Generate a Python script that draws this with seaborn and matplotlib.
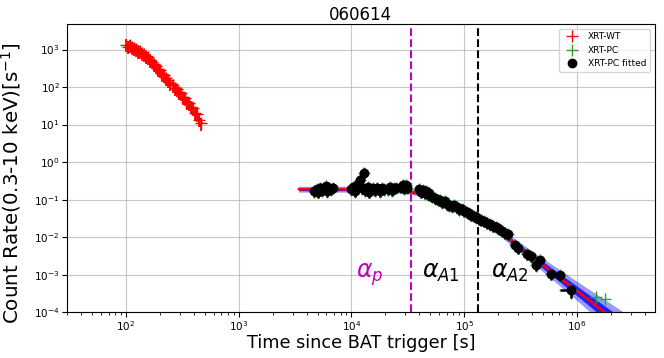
import matplotlib
matplotlib.use("Agg")
import matplotlib.pyplot as plt
from matplotlib.lines import Line2D
from matplotlib.ticker import NullLocator
import seaborn as sns
import numpy as np
import pandas as pd

sns.set_style("ticks", {"axes.edgecolor": "black", "text.color": "black",
                        "xtick.color": "black", "ytick.color": "black",
                        "axes.labelcolor": "black"})
plt.rcParams['font.family'] = ['DejaVu Sans']

# DATA

grb_name = '060614'

# XRT windowed timing mode
wt_t = [100, 104, 108, 112, 117, 122, 127, 132, 138, 144, 150, 156, 163, 170,
        177, 185, 193, 201, 210, 219, 228, 238, 248, 259, 270, 282, 294, 307,
        320, 334, 348, 363, 379, 395, 412, 430, 448, 467]
wt_rate = [1350, 1200, 1320, 1150, 1080, 1020, 930, 910, 800, 770, 670, 640,
           530, 480, 410, 370, 300, 285, 225, 205, 170, 155, 128, 115, 95, 88,
           72, 70, 55, 50, 40, 38, 30, 28, 21, 19, 13.5, 11]
wt_rerr_frac = 0.38
wt_terr_frac = 0.03

# XRT photon counting mode (fitted part)
pc_t = [4700, 4900, 5100, 5300, 5500, 5700, 5900, 6100, 6300, 6600, 6900,
        9900, 10300, 10800, 11300, 11800, 12300, 12800, 13300, 13900, 14300,
        15500, 16300, 17000, 17800, 18600, 19400,
        21000, 22000, 23000, 24000, 25000,
        27500, 28500, 29500, 30500, 31400,
        40000, 41500, 43000, 44500, 46000, 47500, 49000,
        52000, 55000, 58000, 61000, 64000, 67000, 70000, 74000, 78000, 82000,
        86000, 90000, 95000,
        100000, 105000, 110000, 116000, 122000, 128000, 135000,
        142000, 150000, 160000, 170000, 180000, 190000, 200000, 215000, 230000,
        245000, 280000, 300000, 360000, 390000, 430000, 470000, 590000, 710000,
        890000]
pc_rate = [0.17, 0.19, 0.16, 0.21, 0.18, 0.20, 0.23, 0.17, 0.20, 0.19, 0.21,
           0.19, 0.22, 0.17, 0.25, 0.34, 0.20, 0.52, 0.18, 0.22, 0.16,
           0.20, 0.18, 0.21, 0.17, 0.20, 0.19,
           0.19, 0.22, 0.18, 0.20, 0.21,
           0.22, 0.25, 0.20, 0.24, 0.21,
           0.19, 0.16, 0.18, 0.15, 0.17, 0.14, 0.15,
           0.12, 0.11, 0.10, 0.095, 0.085, 0.09, 0.075, 0.07, 0.066, 0.07,
           0.062, 0.055, 0.058,
           0.05, 0.046, 0.043, 0.039, 0.037, 0.034, 0.031,
           0.029, 0.027, 0.024, 0.022, 0.02, 0.019, 0.017, 0.015, 0.013,
           0.012, 0.0062, 0.0052, 0.0036, 0.0031, 0.0018, 0.0024, 0.00105,
           0.00096, 0.00039]
pc_rerr_frac = [0.3] * 82 + [0.4]
pc_terr_lo = [0.04] * 82 + [0.2]
pc_terr_hi = [0.04] * 82 + [0.02]

# XRT photon counting mode (not fitted)
pc_extra_t = [1.47e6, 1.77e6]
pc_extra_rate = [2.5e-4, 2.2e-4]

# best fit model + spread of the fit
fit_t = [3400, 8000, 15000, 22000, 28000, 34000, 42000, 60000, 90000,
         140000, 200000, 400000, 1000000, 3000000]
fit_rate = [0.19, 0.19, 0.188, 0.183, 0.175, 0.162, 0.14, 0.094, 0.058,
            0.034, 0.015, 0.0030, 0.00037, 0.000029]
fit_spread = [1.2, 1.2, 1.2, 1.2, 1.19, 1.18, 1.17, 1.17, 1.18,
              1.2, 1.27, 1.42, 1.8, 2.6]

t_peak = 34000
t_break = 133000

# FIGURE

fig, ax = plt.subplots(figsize=(6.64, 3.58), dpi=100)
fig.subplots_adjust(left=0.101, right=0.986, top=0.932, bottom=0.128)

df_fit = pd.DataFrame({'t': fit_t, 'rate': fit_rate, 'k': fit_spread})
ax.fill_between(df_fit['t'], df_fit['rate'] / df_fit['k'],
                df_fit['rate'] * df_fit['k'], color='blue', alpha=0.4,
                lw=0, zorder=2)
ax.fill_between(df_fit['t'], df_fit['rate'] / np.sqrt(df_fit['k']),
                df_fit['rate'] * np.sqrt(df_fit['k']), color='blue',
                alpha=0.8, lw=0, zorder=2)
sns.lineplot(data=df_fit, x='t', y='rate', color='red', lw=1.8, ax=ax,
             zorder=3, sort=False)

ax.axvline(t_peak, color='m', ls='--', lw=1.5, zorder=2.5)
ax.axvline(t_break, color='black', ls='--', lw=1.5, zorder=2.5)

# WT data
wt_t_a = np.array(wt_t)
wt_r_a = np.array(wt_rate)
ax.errorbar(wt_t_a, wt_r_a, yerr=wt_r_a * wt_rerr_frac,
            xerr=wt_t_a * wt_terr_frac, fmt='+', color='red', ms=9,
            lw=1.3, zorder=4)

# PC data
pc_t_a = np.array(pc_t, dtype=float)
pc_r_a = np.array(pc_rate)
pc_ye = pc_r_a * np.array(pc_rerr_frac)
pc_xe = [pc_t_a * np.array(pc_terr_lo), pc_t_a * np.array(pc_terr_hi)]
ax.errorbar(pc_t_a, pc_r_a, yerr=pc_ye * 1.1, xerr=[e * 1.1 for e in pc_xe],
            fmt='+', color='tab:green', ms=8, lw=1, zorder=4)
ax.errorbar(pc_extra_t, pc_extra_rate, fmt='+', color='tab:green', ms=9,
            lw=1, zorder=4)
ax.errorbar(pc_t_a, pc_r_a, yerr=pc_ye, xerr=pc_xe, fmt='none',
            ecolor='black', lw=1.8, zorder=5)
df_pc = pd.DataFrame({'t': pc_t_a, 'rate': pc_r_a})
sns.scatterplot(data=df_pc, x='t', y='rate', color='black', s=50,
                edgecolor='black', linewidth=0, ax=ax, zorder=6)

ax.set_xscale('log')
ax.set_yscale('log')
ax.set_xlim(30, 4.9e6)
ax.set_ylim(1e-4, 4700)
ax.yaxis.set_minor_locator(NullLocator())
ax.grid(True, which='major', color='#b0b0b0', lw=0.8, alpha=0.7)
ax.set_axisbelow(True)

ax.text(1.1e4, 8e-4, r'$\alpha_p$', color='m', fontsize=17)
ax.text(4.2e4, 8e-4, r'$\alpha_{A1}$', color='black', fontsize=17)
ax.text(1.72e5, 8e-4, r'$\alpha_{A2}$', color='black', fontsize=17)

ax.set_title(grb_name, fontsize=12, pad=3)
ax.set_xlabel('Time since BAT trigger [s]', fontsize=12.7, labelpad=0.5)
ax.set_ylabel(r'Count Rate(0.3-10 keV)[s$^{-1}$]', fontsize=14.3)
ax.yaxis.set_label_coords(-0.075, 0.45)
ax.tick_params(labelsize=7.5, pad=1.8)

handles = [Line2D([], [], color='red', marker='+', ls='none', ms=9),
           Line2D([], [], color='tab:green', marker='+', ls='none', ms=9),
           Line2D([], [], color='black', marker='o', ls='none', ms=6)]
ax.legend(handles, ['XRT-WT', 'XRT-PC', 'XRT-PC fitted'], loc='upper right',
          fontsize=6.5, frameon=True)

fig.savefig('out.png', dpi=100)
